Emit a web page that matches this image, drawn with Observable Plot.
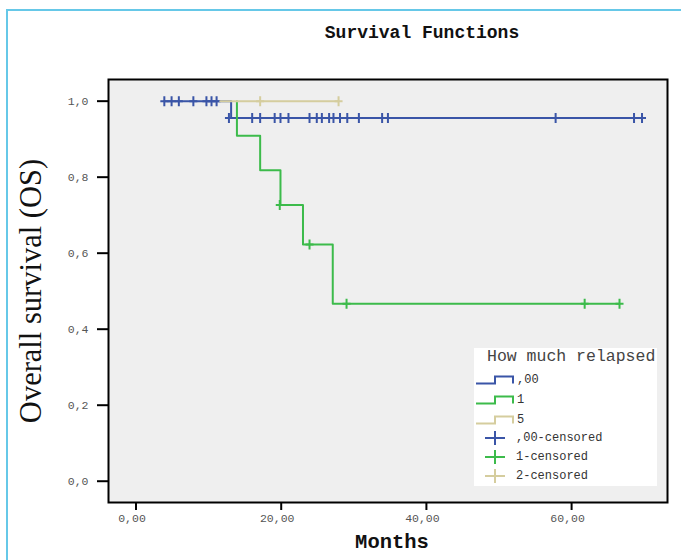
<!DOCTYPE html>
<html>
<head>
<meta charset="utf-8">
<script src="https://cdn.jsdelivr.net/npm/d3@7"></script>
<script src="https://cdn.jsdelivr.net/npm/@observablehq/plot@0.6"></script>
<style>
  html, body { margin: 0; padding: 0; background: #ffffff; }
  #wrap { position: relative; width: 681px; height: 560px; background: #ffffff; overflow: hidden; }
  .abs { position: absolute; }
  .mono { font-family: "Liberation Mono", "DejaVu Sans Mono", monospace; }
</style>
</head>
<body>
<div id="wrap"></div>
<script>
// ---------- data ----------
const xTicks = [0, 20, 40, 60];
const yTicks = [0, 0.2, 0.4, 0.6, 0.8, 1.0];

const groupLabels = [",00", "1", "5"];
const censorLabels = [",00-censored", "1-censored", "2-censored"];

// group ",00" (step function)
const blueT = [3.9, 13.1, 69.7];
const blueS = [1.0, 0.956, 0.956];
// group ",00" censored cases
const blueCT = [3.9, 4.9, 5.9, 7.9, 9.7, 10.4, 11.1,
  12.8, 16.0, 17.1, 19.1, 19.9, 21.0, 23.9, 24.9, 25.6, 26.6, 27.2, 28.1, 29.1, 30.7, 33.9, 34.7, 57.8, 68.6, 69.7];
const blueCS = [1, 1, 1, 1, 1, 1, 1,
  0.956, 0.956, 0.956, 0.956, 0.956, 0.956, 0.956, 0.956, 0.956, 0.956, 0.956, 0.956, 0.956, 0.956, 0.956, 0.956, 0.956, 0.956, 0.956];

// group "1"
const greenT = [13.9, 13.9, 17.1, 19.9, 23.0, 27.1, 66.6];
const greenS = [1.0, 0.909, 0.818, 0.727, 0.623, 0.467, 0.467];
const greenCT = [19.8, 23.9, 29.0, 61.8, 66.6];
const greenCS = [0.727, 0.623, 0.467, 0.467, 0.467];

// group "5"
const tanT = [11.6, 27.9];
const tanS = [1.0, 1.0];
const tanCT = [17.1, 27.9];
const tanCS = [1.0, 1.0];

// ---------- build tables ----------
const colors = ["#3a55a7", "#3cbb4b", "#d5cd9e"];
const stepSets = [[blueT, blueS], [greenT, greenS], [tanT, tanS]];
const censSets = [[blueCT, blueCS], [greenCT, greenCS], [tanCT, tanCS]];
const toRows = ([t, s]) => t.map((d, i) => ({t: d, s: s[i]}));

const plusSymbol = {
  draw(ctx) {
    ctx.moveTo(-4, 0); ctx.lineTo(4, 0);
    ctx.moveTo(0, -5); ctx.lineTo(0, 5);
  }
};

const marks = [Plot.frame({fill: "#efefef", stroke: null})];
stepSets.forEach((set, i) => {
  marks.push(Plot.line(toRows(set), {x: "t", y: "s", curve: "step-after", stroke: colors[i], strokeWidth: 2}));
  marks.push(Plot.dot(toRows(censSets[i]), {x: "t", y: "s", symbol: plusSymbol, fill: "none", stroke: colors[i], strokeWidth: 2}));
});
marks.push(Plot.axisX({ticks: xTicks, tickSize: 8, tickFormat: () => "", stroke: "#000", strokeWidth: 2, label: null}));
marks.push(Plot.axisX({ticks: xTicks, tickSize: 0, tickPadding: 11, dx: -4,
  tickFormat: d => d.toFixed(2).replace(".", ","), fill: "#555", label: null}));
marks.push(Plot.axisY({ticks: yTicks, tickSize: 11, tickPadding: 9,
  tickFormat: d => d.toFixed(1).replace(".", ","), stroke: "#000", strokeWidth: 2, fill: "#555", label: null}));
marks.push(Plot.frame({stroke: "#000", strokeWidth: 2}));

const chart = Plot.plot({
  width: 681,
  height: 500,
  marginTop: 19,
  marginBottom: 58,
  marginLeft: 108,
  marginRight: 14,
  x: {domain: [-3.79, 73.21]},
  y: {domain: [-0.056, 1.057]},
  style: {background: "transparent", fontFamily: "'Liberation Mono', monospace", fontSize: "11.5px", overflow: "visible"},
  marks
});

// ---------- page layout ----------
const wrap = d3.select("#wrap");
// light blue border lines
wrap.append("div").attr("class", "abs").style("left", "6px").style("top", "9px").style("width", "675px").style("height", "2px").style("background", "#66c8e8");
wrap.append("div").attr("class", "abs").style("left", "6px").style("top", "9px").style("width", "2px").style("height", "551px").style("background", "#66c8e8");

// title
wrap.append("div").attr("class", "abs mono").text("Survival Functions")
  .style("left", "222px").style("top", "22px").style("width", "400px").style("text-align", "center")
  .style("font-size", "18px").style("font-weight", "bold").style("line-height", "22px").style("color", "#111");

// chart svg
const holder = wrap.append("div").attr("class", "abs").style("left", "0px").style("top", "60px");
holder.node().appendChild(chart);

// y title
wrap.append("div").attr("class", "abs").text("Overall survival (OS)")
  .style("left", "-169px").style("top", "273px").style("width", "400px").style("height", "36px")
  .style("line-height", "36px").style("text-align", "center")
  .style("font-family", "'Liberation Serif', 'DejaVu Serif', serif").style("font-size", "30.5px").style("color", "#111")
  .style("transform", "rotate(-90deg)").style("transform-origin", "200px 18px");

// x title
wrap.append("div").attr("class", "abs mono").text("Months")
  .style("left", "292px").style("top", "531px").style("width", "200px").style("text-align", "center")
  .style("font-size", "20.5px").style("font-weight", "bold").style("line-height", "24px").style("color", "#111");

// legend
const leg = wrap.append("div").attr("class", "abs mono")
  .style("left", "474px").style("top", "348px").style("width", "183px").style("height", "138px").style("background", "#ffffff");
leg.append("div").attr("class", "abs").text("How much relapsed")
  .style("left", "13px").style("top", "0px").style("font-size", "16.5px").style("line-height", "18px").style("color", "#444").style("white-space", "nowrap");

groupLabels.forEach((lab, i) => {
  const cy = 32 + i * 20;
  const svg = leg.append("svg").attr("class", "abs").attr("width", 40).attr("height", 14)
    .style("left", "2px").style("top", (cy - 7) + "px");
  svg.append("path").attr("d", "M0,10.5H19V3.5H37V10.5").attr("fill", "none").attr("stroke", colors[i]).attr("stroke-width", 2);
  leg.append("div").attr("class", "abs").text(lab)
    .style("left", "43px").style("top", (cy - 8) + "px").style("font-size", "12px").style("line-height", "16px").style("color", "#333");
});
censorLabels.forEach((lab, i) => {
  const cy = 90 + i * 19;
  const svg = leg.append("svg").attr("class", "abs").attr("width", 24).attr("height", 16)
    .style("left", "9px").style("top", (cy - 8) + "px");
  svg.append("path").attr("d", "M2,8H22M12,1V15").attr("fill", "none").attr("stroke", colors[i]).attr("stroke-width", 2);
  leg.append("div").attr("class", "abs").text(lab)
    .style("left", "42px").style("top", (cy - 8) + "px").style("font-size", "12px").style("line-height", "16px").style("color", "#333").style("white-space", "nowrap");
});
</script>
</body>
</html>
